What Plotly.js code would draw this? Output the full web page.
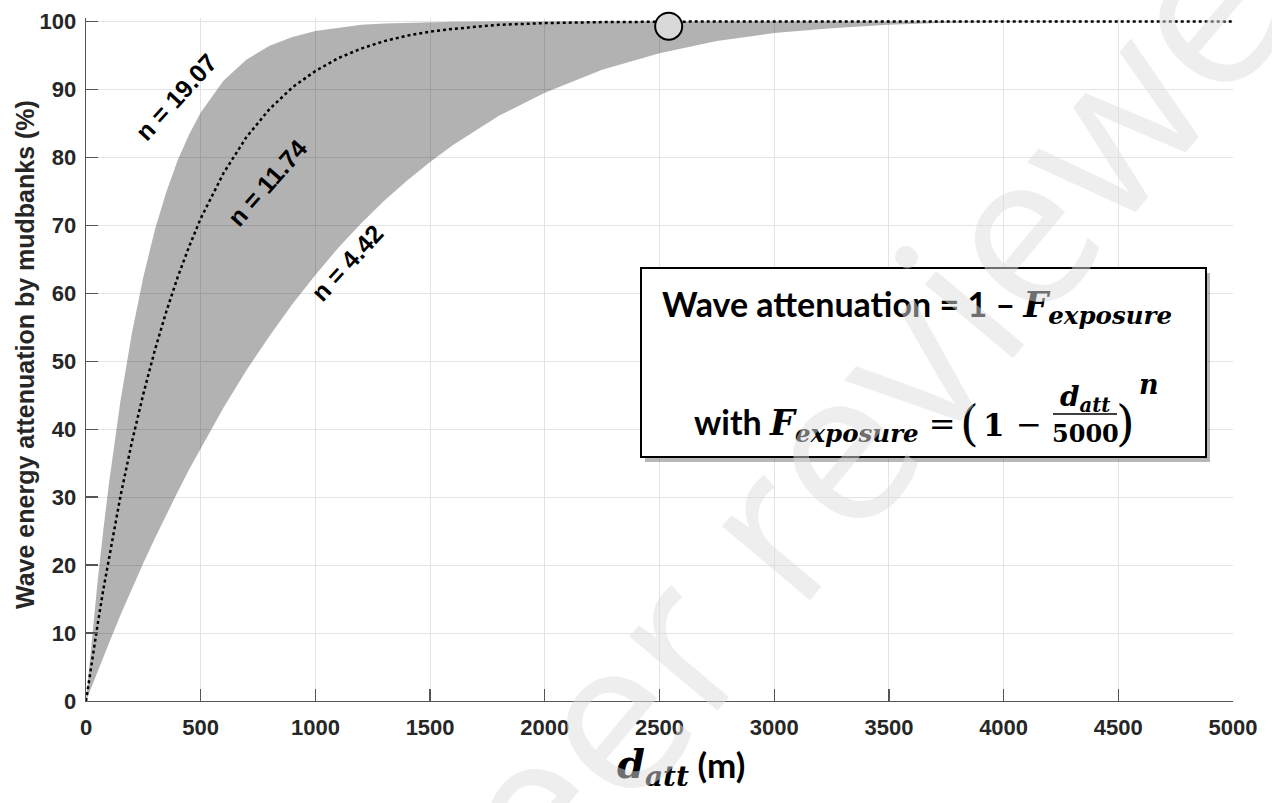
<!DOCTYPE html>
<html>
<head>
<meta charset="utf-8">
<script src="https://cdn.plot.ly/plotly-3.0.1.min.js"></script>
<style>
html,body{margin:0;padding:0;background:#fff;}
#chart{width:1272px;height:803px;}
</style>
</head>
<body>
<div id="chart"></div>
<script>
// Distance d_att (m)
const dAtt = [0,25,50,75,100,150,200,250,300,350,400,450,500,600,700,800,900,1000,1100,1200,1300,1400,1500,1600,1800,2000,2250,2500,2750,3000,3250,3500,3750,4000,4500,5000];
// Wave energy attenuation (%) for n = 19.07 (upper bound)
const attN1907 = [0,9.1,17.4,25.0,32.0,44.1,54.1,62.4,69.3,74.9,79.6,83.4,86.6,91.3,94.4,96.4,97.7,98.6,99.1,99.5,99.7,99.8,99.9,99.94,99.98,100,100,100,100,100,100,100,100,100,100,100];
// n = 11.74 (central, dotted)
const attN1174 = [0,5.7,11.1,16.3,21.1,30.1,38.1,45.2,51.6,57.3,62.4,66.9,71.0,77.7,83.0,87.1,90.3,92.7,94.6,96.0,97.1,97.9,98.5,98.9,99.5,99.75,99.9,99.97,99.99,100,100,100,100,100,100,100];
// n = 4.42 (lower bound)
const attN442 = [0,2.2,4.3,6.5,8.5,12.6,16.5,20.3,23.9,27.4,30.8,34.1,37.2,43.2,48.7,53.7,58.4,62.7,66.7,70.3,73.6,76.6,79.3,81.8,86.1,89.5,92.9,95.3,97.1,98.3,99.0,99.5,99.8,99.92,100,100];
// highlighted point
const pointX = [2540];
const pointY = [99.3];
// tick values
const xTicks = [0,500,1000,1500,2000,2500,3000,3500,4000,4500,5000];
const yTicks = [0,10,20,30,40,50,60,70,80,90,100];
const curveLabels = ["n = 19.07","n = 11.74","n = 4.42"];

const M = {l:86, r:39, t:18, b:102};
const PW = 1272 - M.l - M.r, PH = 803 - M.t - M.b;
const px = x => (x - M.l) / PW;
const py = y => (803 - M.b - y) / PH;

const SERIF = "DejaVu Serif";
const SANS = "Liberation Sans, Arial, sans-serif";
const CAL = "Lato, Open Sans, sans-serif";
const mathBI = (t, size) => '<span style="font-family:' + SERIF + ';font-weight:bold;font-style:italic;font-size:' + size + 'px">' + t + '</span>';

const traces = [
  {x: dAtt, y: attN442, type:'scatter', mode:'lines', line:{width:0, color:'rgba(0,0,0,0)'}, hoverinfo:'skip', showlegend:false},
  {x: dAtt, y: attN1907, type:'scatter', mode:'lines', fill:'tonexty', fillcolor:'rgba(0,0,0,0.30)', line:{width:0, color:'rgba(0,0,0,0)'}, hoverinfo:'skip', showlegend:false},
  {x: dAtt, y: attN1174, type:'scatter', mode:'lines', line:{width:2.5, color:'#000', dash:'dot'}, showlegend:false},
  {x: pointX, y: pointY, type:'scatter', mode:'markers', cliponaxis:false, marker:{size:27, color:'#d9d9d9', line:{width:2, color:'#000'}}, showlegend:false}
];

const annotations = [
  {xref:'paper', yref:'paper', x:px(25), y:py(355), text:'<b>Wave energy attenuation by mudbanks (%)</b>', textangle:-90, showarrow:false, xanchor:'center', yanchor:'middle', font:{family:SANS, size:25, color:'#262626'}},
  {xref:'paper', yref:'paper', x:px(681), y:py(766), text: mathBI('d<sub>att</sub>', 40) + '<span style="font-family:Lato;font-weight:bold;font-size:35px"> (m)</span>', showarrow:false, xanchor:'center', yanchor:'middle', font:{family:CAL, size:35, color:'#000', weight:'bold'}},
  {xref:'paper', yref:'paper', x:px(176), y:py(97), text:'<b>' + curveLabels[0] + '</b>', textangle:-47.5, showarrow:false, xanchor:'center', yanchor:'middle', font:{family:SANS, size:25, color:'#000'}},
  {xref:'paper', yref:'paper', x:px(267), y:py(183), text:'<b>' + curveLabels[1] + '</b>', textangle:-48.5, showarrow:false, xanchor:'center', yanchor:'middle', font:{family:SANS, size:25, color:'#000'}},
  {xref:'paper', yref:'paper', x:px(347), y:py(263), text:'<b>' + curveLabels[2] + '</b>', textangle:-47.5, showarrow:false, xanchor:'center', yanchor:'middle', font:{family:SANS, size:25, color:'#000'}},
  // formula line 1
  {xref:'paper', yref:'paper', x:px(917), y:py(306), text:'<b>Wave attenuation = 1 – </b>' + mathBI('F<sub>exposure</sub>', 35), showarrow:false, xanchor:'center', yanchor:'middle', font:{family:CAL, size:34, color:'#000'}},
  // formula line 2
  {xref:'paper', yref:'paper', x:px(958), y:py(424), text:'<b>with </b>' + mathBI('F<sub>exposure</sub>', 35) + '<span style="font-family:' + SERIF + ';font-size:32px"> =</span>', showarrow:false, xanchor:'right', yanchor:'middle', font:{family:CAL, size:34, color:'#000'}},
  {xref:'paper', yref:'paper', x:px(969), y:py(423), text:'(', showarrow:false, xanchor:'center', yanchor:'middle', font:{family:SERIF, size:48, color:'#000'}},
  {xref:'paper', yref:'paper', x:px(994), y:py(425), text:'<b>1</b>', showarrow:false, xanchor:'center', yanchor:'middle', font:{family:SERIF, size:31, color:'#000'}},
  {xref:'paper', yref:'paper', x:px(1029), y:py(424), text:'−', showarrow:false, xanchor:'center', yanchor:'middle', font:{family:SERIF, size:31, color:'#000'}},
  {xref:'paper', yref:'paper', x:px(1085), y:py(398), text: mathBI('d<sub>att</sub>', 28), showarrow:false, xanchor:'center', yanchor:'middle', font:{family:SERIF, size:28, color:'#000'}},
  {xref:'paper', yref:'paper', x:px(1085), y:py(433), text:'<b>5000</b>', showarrow:false, xanchor:'center', yanchor:'middle', font:{family:SERIF, size:24, color:'#000'}},
  {xref:'paper', yref:'paper', x:px(1125), y:py(423), text:')', showarrow:false, xanchor:'center', yanchor:'middle', font:{family:SERIF, size:48, color:'#000'}},
  {xref:'paper', yref:'paper', x:px(1149), y:py(384), text: mathBI('n', 27), showarrow:false, xanchor:'center', yanchor:'middle', font:{family:SERIF, size:27, color:'#000'}},
  // watermark
  {xref:'paper', yref:'paper', x:px(860), y:py(410), text:'peer reviewed', textangle:-50, showarrow:false, xanchor:'center', yanchor:'middle', font:{family:'Open Sans', size:215, color:'rgba(222,222,222,0.5)'}}
];

const shapes = [
  {type:'rect', xref:'paper', yref:'paper', x0:px(645), x1:px(1210), y0:py(273), y1:py(462), line:{width:0}, fillcolor:'rgba(0,0,0,0.28)', layer:'above'},
  {type:'rect', xref:'paper', yref:'paper', x0:px(641), x1:px(1206), y0:py(268), y1:py(457), line:{width:2, color:'#000'}, fillcolor:'#fff', layer:'above'},
  {type:'line', xref:'paper', yref:'paper', x0:px(1053), x1:px(1117), y0:py(414), y1:py(414), line:{width:1.6, color:'#000'}, layer:'above'}
];

const layout = {
  width:1272, height:803,
  margin:M,
  paper_bgcolor:'#fff', plot_bgcolor:'#fff',
  showlegend:false,
  xaxis:{range:[0,5000], tickvals:xTicks, ticktext:xTicks.map(String), ticks:'inside', ticklen:12, tickwidth:1.3, tickcolor:'#555',
    showline:true, linecolor:'#555', linewidth:1.3, showgrid:true, gridcolor:'#e3e3e3', gridwidth:1, zeroline:false,
    tickfont:{family:SANS, size:22, color:'#262626', weight:'bold'}, ticklabelstandoff:6},
  yaxis:{range:[0,100.5], tickvals:yTicks, ticktext:yTicks.map(String), ticks:'inside', ticklen:12, tickwidth:1.3, tickcolor:'#555',
    showline:true, linecolor:'#555', linewidth:1.3, showgrid:true, gridcolor:'#e3e3e3', gridwidth:1, zeroline:false,
    tickfont:{family:SANS, size:22, color:'#262626', weight:'bold'}, ticklabelstandoff:4},
  annotations:annotations,
  shapes:shapes
};

Plotly.newPlot('chart', traces, layout, {displayModeBar:false, staticPlot:true});
</script>
</body>
</html>
